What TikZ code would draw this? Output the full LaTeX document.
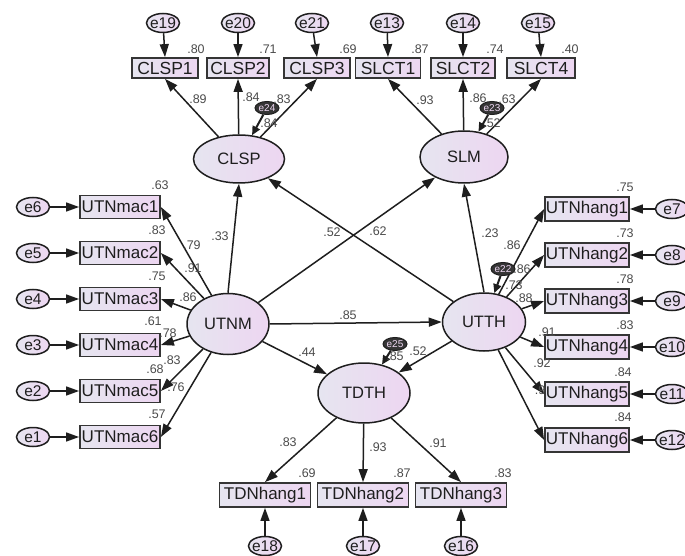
\documentclass[tikz,border=0pt]{standalone}
\usepackage{fontspec}
\setmainfont{Liberation Sans}
\usetikzlibrary{shapes.geometric,arrows.meta}
\definecolor{lavL}{RGB}{230,229,240}
\definecolor{lavR}{RGB}{237,214,241}
\definecolor{ink}{RGB}{30,30,30}
\definecolor{numc}{RGB}{75,75,75}
\begin{document}
\begin{tikzpicture}[x=1pt,y=-1pt,
 obs/.style={rectangle,draw=ink!90,line width=1.8pt,left color=lavL,right color=lavR,inner sep=0pt,minimum height=23pt,font=\fontsize{17}{17}\selectfont,text=ink},
 obst/.style={obs,minimum height=20pt,minimum width=66pt,font=\fontsize{17.5}{17.5}\selectfont},
 lat/.style={ellipse,draw=ink,line width=1.5pt,left color=lavL,right color=lavR,inner sep=0pt,font=\fontsize{16.5}{16.5}\selectfont,text=ink},
 errtxt/.style={font=\fontsize{15.5}{15.5}\selectfont,text=ink,inner sep=0pt},
 err/.style={ellipse,draw=ink,line width=1.5pt,left color=lavL,right color=lavR,inner sep=0pt,minimum width=33pt,minimum height=19pt,label={[errtxt]center:#1}},
 restxt/.style={font=\fontsize{10}{10}\selectfont,text=lavR,inner sep=0pt},
 res/.style={ellipse,draw=ink,line width=1pt,fill=ink!90,inner sep=0pt,minimum width=24pt,minimum height=13pt,label={[restxt]center:#1}},
 num/.style={font=\fontsize{12.5}{12.5}\selectfont,text=numc,inner sep=0pt},
 arr/.style={draw=ink,line width=1.5pt,-{Triangle[length=13pt,width=9pt]}},
 rarr/.style={draw=ink,line width=2pt,-{Triangle[length=9pt,width=8pt]}},
]
\useasboundingbox (0,0) rectangle (685,556);
\clip (0,0) rectangle (685,556);
% latent variables
\node[lat,minimum width=91pt,minimum height=48pt] (CLSP) at (239,159) {CLSP};
\node[lat,minimum width=88pt,minimum height=52pt] (SLM) at (464,157) {SLM};
\node[lat,minimum width=82pt,minimum height=61pt] (UTNM) at (228,324) {UTNM};
\node[lat,minimum width=83pt,minimum height=58pt] (UTTH) at (484,322) {UTTH};
\node[lat,minimum width=92pt,minimum height=60pt] (TDTH) at (364,393) {TDTH};
% top indicators
\node[obst] (CLSP1) at (165,68) {CLSP1};
\node[obst,minimum width=62pt] (CLSP2) at (238,68) {CLSP2};
\node[obst] (CLSP3) at (317,68) {CLSP3};
\node[obst,minimum width=65pt] (SLCT1) at (388,68) {SLCT1};
\node[obst,minimum width=64pt] (SLCT2) at (463,68) {SLCT2};
\node[obst,minimum width=68pt] (SLCT4) at (541,68) {SLCT4};
\node[err=e19] (e19) at (163,23) {};
\node[err=e20] (e20) at (238,23) {};
\node[err=e21] (e21) at (312,23) {};
\node[err=e13] (e13) at (387,23) {};
\node[err=e14] (e14) at (463,23) {};
\node[err=e15] (e15) at (538,23) {};
% left indicators
\foreach \i/\y/\e in {1/207/6,2/253/5,3/299/4,4/345/3,5/391/2,6/437/1}{
  \node[obs,minimum width=80pt] (UTNmac\i) at (120,\y) {UTNmac\i};
  \node[err=e\e] (e\e) at (33,\y) {};
  \draw[arr] (e\e) -- (UTNmac\i.west);
  \draw[arr] (UTNM) -- (UTNmac\i.east);
}
% right indicators
\foreach \i/\y/\e in {1/209/7,2/255/8,3/301/9,4/347/10,5/394/11,6/440/12}{
  \node[obs,minimum width=84pt,minimum height=24pt] (UTNhang\i) at (587,\y) {UTNhang\i};
  \node[err=e\e] (e\e) at (672,\y) {};
  \draw[arr] (e\e) -- (UTNhang\i.east);
  \draw[arr] (UTTH) -- (UTNhang\i.west);
}
% bottom indicators
\foreach \i/\x/\e in {1/265/18,2/363/17,3/461/16}{
  \node[obs,minimum width=91pt,minimum height=24pt] (TDNhang\i) at (\x,495) {TDNhang\i};
  \node[err=e\e] (e\e) at (\x,546) {};
  \draw[arr] (e\e) -- (TDNhang\i.south);
  \draw[arr] (TDTH) -- (TDNhang\i.north);
}
% residuals of latents
\node[res=e24] (e24) at (267,108) {};
\node[res=e23] (e23) at (492,108) {};
\node[res=e22] (e22) at (503,269) {};
\node[res=e25] (e25) at (395,344) {};
% top arrows
\draw[arr] (e19) -- (CLSP1.north);
\draw[arr] (e20) -- (CLSP2.north);
\draw[arr] (e21) -- (CLSP3.north);
\draw[arr] (e13) -- (SLCT1.north);
\draw[arr] (e14) -- (SLCT2.north);
\draw[arr] (e15) -- (SLCT4.north);
\draw[arr] (CLSP) -- (CLSP1.south);
\draw[arr] (CLSP) -- (CLSP2.south);
\draw[arr] (CLSP) -- (CLSP3.south);
\draw[arr] (SLM) -- (SLCT1.south);
\draw[arr] (SLM) -- (SLCT2.south);
\draw[arr] (SLM) -- (SLCT4.south);
% structural paths
\draw[arr] (UTNM.north) -- (CLSP.south);
\draw[arr] (UTNM) -- (SLM);
\draw[arr] (UTTH) -- (CLSP);
\draw[arr] (UTTH.north) -- (SLM.south);
\draw[arr] (UTNM.east) -- (UTTH.west);
\draw[arr] (UTNM) -- (TDTH);
\draw[arr] (UTTH) -- (TDTH);
% residual arrows
\draw[rarr] (e24) -- (CLSP);
\draw[rarr] (e23) -- (SLM);
\draw[rarr] (e22) -- (UTTH);
\draw[rarr] (e25) -- (TDTH);
% labels: top
\node[num] (r1) at (196,49) {.80};
\node[num] (r2) at (268,49) {.71};
\node[num] (r3) at (348,49) {.69};
\node[num] (r4) at (420,49) {.87};
\node[num] (r5) at (495,49) {.74};
\node[num] (r6) at (570,49) {.40};
\node[num] (l1) at (198,99) {.89};
\node[num] (l2) at (251,97) {.84};
\node[num] (l3) at (282,99) {.83};
\node[num] (r7) at (269,123) {.84};
\node[num] (l4) at (425,100) {.93};
\node[num] (l5) at (478,98) {.86};
\node[num] (l6) at (507,99) {.63};
\node[num] (r8) at (492,123) {.52};
% structural labels
\node[num] (s1) at (220,236) {.33};
\node[num] (s2) at (332,232) {.52};
\node[num] (s3) at (378,231) {.62};
\node[num] (s4) at (490,233) {.23};
\node[num] (s5) at (348,315) {.85};
\node[num] (s6) at (307,352) {.44};
\node[num] (s7) at (418,351) {.52};
\node[num] (r9) at (395,356) {.85};
% left labels
\node[num] (r10) at (160,185) {.63};
\node[num] (r11) at (157,230) {.83};
\node[num] (r12) at (157,276) {.75};
\node[num] (r13) at (153,321) {.61};
\node[num] (r14) at (155,369) {.68};
\node[num] (r15) at (157,414) {.57};
\node[num] (l7) at (192,245) {.79};
\node[num] (l8) at (193,268) {.91};
\node[num] (l9) at (188,297) {.86};
\node[num] (l10) at (168,333) {.78};
\node[num] (l11) at (172,360) {.83};
\node[num] (l12) at (176,387) {.76};
% right labels
\node[num] (r16) at (625,187) {.75};
\node[num] (r17) at (625,233) {.73};
\node[num] (r18) at (625,279) {.78};
\node[num] (r19) at (625,325) {.83};
\node[num] (r20) at (623,372) {.84};
\node[num] (r21) at (623,417) {.84};
\node[num] (l13) at (512,245) {.86};
\node[num] (l14) at (522,269) {.86};
\node[num] (r22) at (514,285) {.73};
\node[num] (l15) at (524,298) {.88};
\node[num] (l16) at (547,332) {.91};
\node[num] (l17) at (542,363) {.92};
\node[num] (l18) at (540,390) {.9};
% bottom labels
\node[num] (l19) at (288,442) {.83};
\node[num] (l20) at (378,447) {.93};
\node[num] (l21) at (438,443) {.91};
\node[num] (r23) at (307,473) {.69};
\node[num] (r24) at (402,473) {.87};
\node[num] (r25) at (503,473) {.83};
\end{tikzpicture}
\end{document}
